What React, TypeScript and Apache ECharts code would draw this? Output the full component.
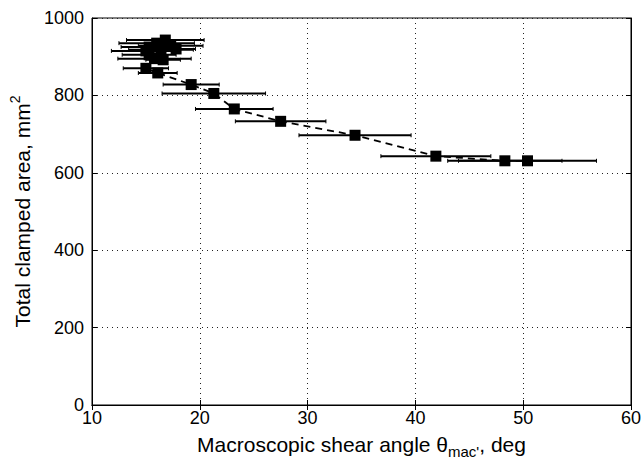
import React, { useEffect, useRef } from "react";
import * as echarts from "echarts";

// Macroscopic shear angle (deg), total clamped area (mm^2), horizontal error (deg)
const shearAngle = [16.8, 16.0, 17.3, 15.3, 16.4, 15.0, 17.8, 15.3, 16.6, 15.8, 15.0, 16.1, 19.2, 21.3, 23.2, 27.5, 34.4, 41.9, 48.3, 50.4];
const clampedArea = [943, 935, 928, 925, 918, 915, 920, 905, 892, 895, 870, 858, 828, 805, 765, 733, 697, 643, 631, 631];
const shearErr = [3.6, 3.5, 3.0, 2.6, 3.0, 3.2, 1.8, 2.5, 1.6, 3.4, 2.1, 1.8, 2.6, 4.8, 3.6, 4.2, 5.2, 5.1, 5.3, 6.4];

const xTicks = [10, 20, 30, 40, 50, 60];
const yTicks = [0, 200, 400, 600, 800, 1000];

const FONT = "Liberation Sans, Arial, Helvetica, sans-serif";

export default function App() {
  const ref = useRef<HTMLDivElement>(null);
  useEffect(() => {
    if (!ref.current) return;
    const chart = echarts.init(ref.current, null, { renderer: "svg" });
    const pts = shearAngle.map((x, i) => [x, clampedArea[i], shearErr[i]]);
    const axisCommon = {
      axisLine: { show: true, lineStyle: { color: "#000", width: 1 } },
      axisTick: { show: true, inside: true, length: 5, lineStyle: { color: "#000" } },
    };
    chart.setOption({
      animation: false,
      textStyle: { fontFamily: FONT, color: "#000" },
      grid: { left: 92, right: 8, top: 18, bottom: 60, show: true, borderColor: "#000", borderWidth: 1 },
      xAxis: [
        {
          type: "value",
          min: xTicks[0],
          max: xTicks[xTicks.length - 1],
          interval: 10,
          position: "bottom",
          ...axisCommon,
          axisLabel: { color: "#000", fontSize: 18, fontFamily: FONT, margin: 4 },
          splitLine: { show: true, lineStyle: { color: "#222", type: [1, 4], width: 1 } },
          name: "Macroscopic shear angle θ{sub|mac'}, deg",
          nameLocation: "middle",
          nameGap: 24,
          nameTextStyle: {
            color: "#000",
            fontSize: 21,
            fontFamily: FONT,
            verticalAlign: "top",
            rich: {
              sub: { fontSize: 15, fontFamily: FONT, color: "#000", padding: [15, 0, 0, 0] },
            },
          },
        },
        {
          type: "value",
          min: xTicks[0],
          max: xTicks[xTicks.length - 1],
          interval: 10,
          position: "top",
          ...axisCommon,
          axisLabel: { show: false },
          splitLine: { show: false },
        },
      ],
      yAxis: [
        {
          type: "value",
          min: yTicks[0],
          max: yTicks[yTicks.length - 1],
          interval: 200,
          position: "left",
          ...axisCommon,
          axisLabel: { color: "#000", fontSize: 18, fontFamily: FONT, margin: 8, formatter: (v: number) => String(v) },
          splitLine: { show: true, lineStyle: { color: "#222", type: [1, 4], width: 1 } },
          name: "Total clamped area, mm{sup|2}",
          nameLocation: "middle",
          nameGap: 56,
          nameRotate: 90,
          nameTextStyle: {
            color: "#000",
            fontSize: 21,
            fontFamily: FONT,
            rich: {
              sup: { fontSize: 14, fontFamily: FONT, color: "#000", padding: [0, 0, 14, 0] },
            },
          },
        },
        {
          type: "value",
          min: yTicks[0],
          max: yTicks[yTicks.length - 1],
          interval: 200,
          position: "right",
          ...axisCommon,
          axisLabel: { show: false },
          splitLine: { show: false },
        },
      ],
      series: [
        {
          type: "custom",
          xAxisIndex: 0,
          yAxisIndex: 0,
          data: pts,
          z: 2,
          renderItem: (params: any, api: any) => {
            const x = api.value(0);
            const y = api.value(1);
            const e = api.value(2);
            const a = api.coord([x - e, y]);
            const b = api.coord([x + e, y]);
            const c = 2;
            const st = { stroke: "#000", lineWidth: 2 };
            return {
              type: "group",
              children: [
                { type: "line", shape: { x1: a[0], y1: a[1], x2: b[0], y2: b[1] }, style: st },
                { type: "line", shape: { x1: a[0], y1: a[1] - c, x2: a[0], y2: a[1] + c }, style: { stroke: "#000", lineWidth: 1 } },
                { type: "line", shape: { x1: b[0], y1: b[1] - c, x2: b[0], y2: b[1] + c }, style: { stroke: "#000", lineWidth: 1 } },
              ],
            };
          },
        },
        {
          type: "line",
          xAxisIndex: 0,
          yAxisIndex: 0,
          data: pts.map((p) => [p[0], p[1]]),
          symbol: "rect",
          symbolSize: 11,
          itemStyle: { color: "#000" },
          lineStyle: { color: "#000", width: 1.8, type: [7, 5] },
          z: 3,
        },
      ],
    });
    return () => chart.dispose();
  }, []);
  return <div ref={ref} style={{ width: 644, height: 465, position: "absolute", left: 0, top: 0, background: "#fff" }} />;
}
